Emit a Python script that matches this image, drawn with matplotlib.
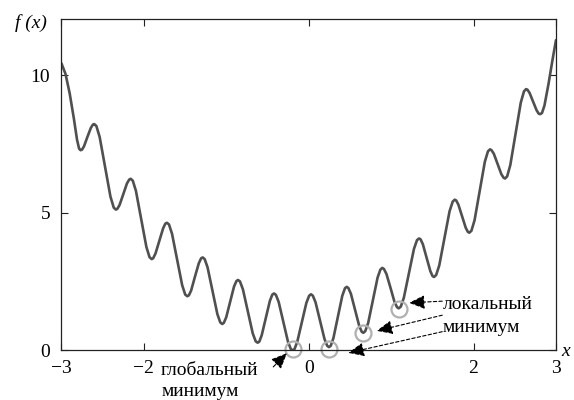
import numpy as np
import matplotlib
matplotlib.use('Agg')
import matplotlib.pyplot as plt

plt.rcParams['font.family'] = 'serif'
plt.rcParams['font.serif'] = ['Liberation Serif', 'Times New Roman', 'DejaVu Serif']

# DATA
x_pts = [-3.000, -2.950, -2.900, -2.850, -2.810, -2.785, -2.767,
         -2.750, -2.726, -2.685, -2.643, -2.618, -2.602,
         -2.576, -2.536, -2.471, -2.405, -2.365, -2.339,
         -2.321, -2.294, -2.250, -2.205, -2.178, -2.160,
         -2.134, -2.096, -2.033, -1.969, -1.931, -1.905,
         -1.887, -1.859, -1.813, -1.766, -1.739, -1.720,
         -1.695, -1.658, -1.597, -1.535, -1.498, -1.473,
         -1.454, -1.426, -1.380, -1.333, -1.305, -1.286,
         -1.262, -1.227, -1.168, -1.108, -1.073, -1.049,
         -1.030, -1.001, -0.954, -0.906, -0.877, -0.858,
         -0.834, -0.798, -0.739, -0.679, -0.643, -0.619,
         -0.599, -0.570, -0.520, -0.471, -0.441, -0.421,
         -0.398, -0.364, -0.308, -0.251, -0.217, -0.194,
         -0.172, -0.139, -0.083, -0.028, 0.006, 0.028,
         0.050, 0.083, 0.137, 0.192, 0.224, 0.246,
         0.268, 0.300, 0.354, 0.407, 0.440, 0.461,
         0.481, 0.512, 0.562, 0.613, 0.643, 0.663,
         0.686, 0.721, 0.778, 0.836, 0.870, 0.893,
         0.913, 0.943, 0.993, 1.042, 1.072, 1.092,
         1.117, 1.154, 1.216, 1.277, 1.314, 1.339,
         1.357, 1.385, 1.430, 1.476, 1.503, 1.521,
         1.546, 1.584, 1.647, 1.709, 1.747, 1.772,
         1.790, 1.816, 1.861, 1.905, 1.931, 1.949,
         1.974, 2.012, 2.075, 2.137, 2.175, 2.200,
         2.218, 2.246, 2.291, 2.337, 2.364, 2.382,
         2.408, 2.446, 2.510, 2.573, 2.612, 2.637,
         2.654, 2.680, 2.722, 2.765, 2.790, 2.807,
         2.830, 2.860, 2.910, 2.960, 3.000]
y_pts = [10.44, 10.05, 9.35, 8.45, 7.65, 7.33, 7.28,
         7.30, 7.42, 7.76, 8.09, 8.21, 8.23,
         8.16, 7.76, 6.68, 5.59, 5.19, 5.12,
         5.15, 5.29, 5.68, 6.07, 6.21, 6.24,
         6.17, 5.80, 4.78, 3.76, 3.39, 3.32,
         3.35, 3.52, 3.98, 4.44, 4.61, 4.64,
         4.58, 4.24, 3.31, 2.37, 2.03, 1.97,
         2.00, 2.18, 2.68, 3.17, 3.35, 3.38,
         3.32, 3.02, 2.17, 1.32, 1.02, 0.96,
         1.00, 1.20, 1.76, 2.32, 2.52, 2.56,
         2.51, 2.22, 1.42, 0.62, 0.33, 0.28,
         0.32, 0.55, 1.18, 1.80, 2.03, 2.07,
         2.02, 1.76, 1.04, 0.31, 0.05, 0.00,
         0.05, 0.31, 1.02, 1.73, 1.99, 2.04,
         1.99, 1.75, 1.08, 0.41, 0.17, 0.12,
         0.17, 0.45, 1.22, 1.98, 2.26, 2.31,
         2.27, 2.06, 1.48, 0.89, 0.68, 0.64,
         0.70, 0.99, 1.82, 2.65, 2.94, 3.00,
         2.96, 2.78, 2.27, 1.75, 1.57, 1.53,
         1.59, 1.91, 2.80, 3.69, 4.01, 4.07,
         4.04, 3.86, 3.37, 2.88, 2.70, 2.67,
         2.74, 3.09, 4.08, 5.06, 5.41, 5.48,
         5.45, 5.30, 4.88, 4.46, 4.31, 4.28,
         4.35, 4.73, 5.80, 6.86, 7.24, 7.31,
         7.28, 7.15, 6.78, 6.41, 6.28, 6.25,
         6.33, 6.74, 7.88, 9.01, 9.42, 9.50,
         9.48, 9.36, 9.05, 8.73, 8.61, 8.59,
         8.63, 8.90, 9.70, 10.60, 11.28]

# circled minima
min_x = [-0.19, 0.246, 0.663, 1.096]
min_y = [0.05, 0.04, 0.62, 1.52]

x_ticks = [-3, -2, 0, 2, 3]
x_tick_labels = ['\u22123', '\u22122', '0', '2', '3']
y_ticks = [0, 5, 10]

# PLOT
fig = plt.figure(figsize=(5.74, 4.0), dpi=100)
ax = fig.add_axes([0.107, 0.124, 0.8616, 0.8285])

ax.plot(x_pts, y_pts, color='#505050', lw=1.9, solid_capstyle='round')
ax.plot(min_x, min_y, 'o', ms=11.5, mfc='none', mec='#b0b0b0', mew=1.6, clip_on=False)

ax.set_xlim(-3, 3)
ax.set_ylim(0, 12.05)
ax.set_xticks(x_ticks)
ax.set_xticklabels(x_tick_labels)
ax.set_yticks(y_ticks)
ax.tick_params(direction='in', top=True, right=True, length=5, width=0.8,
               labelsize=14, color='#222222')
ax.tick_params(axis='x', pad=7)
ax.tick_params(axis='y', pad=8)
for s in ax.spines.values():
    s.set_linewidth(0.9)
    s.set_color('#222222')

ax.text(-3.37, 11.91, 'f (x)', style='italic', fontsize=14, ha='center', va='center', clip_on=False)
ax.text(3.12, -0.05, 'x', style='italic', fontsize=14, ha='center', va='center', clip_on=False)

# annotations
arrow = dict(arrowstyle='-|>,head_length=0.8,head_width=0.35', linestyle=(0, (3, 2)),
             color='black', lw=0.8, shrinkA=0, shrinkB=0, mutation_scale=12)
ax.text(1.63, 1.68, 'локальный', fontsize=14, ha='left', va='center')
ax.text(1.63, 0.85, 'минимум', fontsize=14, ha='left', va='center')
ax.annotate('', xy=(1.217, 1.73), xytext=(1.62, 1.79), arrowprops=arrow)
ax.annotate('', xy=(0.825, 0.71), xytext=(1.62, 1.28), arrowprops=arrow)
ax.annotate('', xy=(0.481, -0.09), xytext=(1.62, 0.68), arrowprops=arrow, annotation_clip=False)

ax.text(-1.792, -0.72, 'глобальный', fontsize=14, ha='left', va='center', clip_on=False)
ax.text(-1.78, -1.51, 'минимум', fontsize=14, ha='left', va='center', clip_on=False)
ax.annotate('', xy=(-0.264, -0.10), xytext=(-0.43, -0.60), arrowprops=arrow, annotation_clip=False)

fig.savefig('out.png', dpi=100)
